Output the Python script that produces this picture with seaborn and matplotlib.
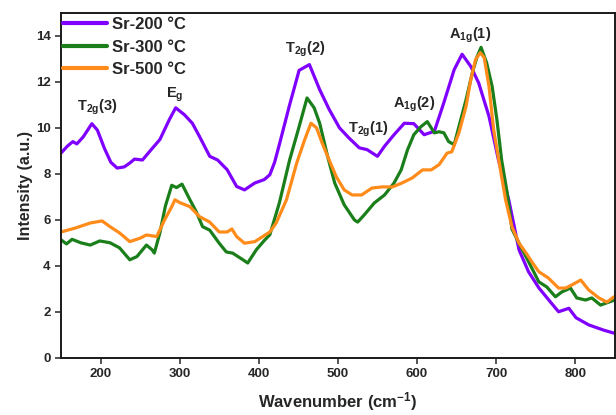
import numpy as np
import pandas as pd
import matplotlib
matplotlib.use("Agg")
import matplotlib.pyplot as plt
import seaborn as sns

# Raman spectra of Sr samples annealed at different temperatures
wn_200 = [150, 158, 165, 170, 178, 189, 196, 205, 213, 221, 230, 237, 243, 253, 262, 275,
          287, 295, 306, 316, 325, 338, 348, 360, 372, 382, 395, 407, 414, 420, 426, 439,
          451, 464, 477, 489, 502, 514, 527, 537, 550, 559, 571, 584, 596, 609, 622, 634,
          647, 657, 668, 678, 691, 703, 716, 729, 741, 754, 770, 779, 792, 801, 817, 836, 849]
int_200 = [8.9, 9.2, 9.4, 9.3, 9.6, 10.18, 9.9, 9.1, 8.5, 8.25, 8.3, 8.47, 8.64, 8.6, 8.97, 9.49,
           10.36, 10.87, 10.57, 10.2, 9.63, 8.76, 8.6, 8.18, 7.45, 7.3, 7.6, 7.75, 7.96, 8.5, 9.27, 11.0,
           12.5, 12.75, 11.66, 10.8, 10.0, 9.56, 9.13, 9.05, 8.76, 9.2, 9.7, 10.2, 10.18, 9.7, 9.85, 11.1,
           12.53, 13.2, 12.67, 11.95, 10.5, 8.6, 6.87, 4.69, 3.74, 3.04, 2.37, 2.0, 2.15, 1.74, 1.43, 1.2, 1.07]

wn_300 = [150, 157, 164, 175, 187, 199, 212, 224, 237, 246, 258, 265, 268, 275, 282, 290,
          296, 303, 313, 321, 329, 338, 350, 359, 367, 380, 386, 397, 407, 414, 426, 439,
          451, 461, 470, 477, 487, 496, 508, 521, 525, 533, 546, 559, 571, 580, 588, 596,
          605, 613, 622, 628, 634, 640, 647, 653, 662, 670, 676, 681, 688, 695, 701, 707,
          714, 720, 729, 741, 754, 764, 775, 783, 794, 802, 813, 821, 832, 849]
int_300 = [5.13, 4.95, 5.15, 5.0, 4.9, 5.08, 5.0, 4.78, 4.26, 4.4, 4.9, 4.7, 4.55, 5.43, 6.6, 7.5,
           7.4, 7.55, 6.87, 6.35, 5.7, 5.55, 4.98, 4.6, 4.55, 4.26, 4.12, 4.7, 5.1, 5.35, 6.73, 8.6,
           10.05, 11.3, 10.87, 10.2, 8.76, 7.6, 6.65, 5.99, 5.9, 6.2, 6.73, 7.08, 7.6, 8.17, 9.04, 9.7,
           10.05, 10.27, 9.78, 9.83, 9.78, 9.4, 9.27, 10.05, 11.22, 12.4, 13.1, 13.5, 12.83, 11.8, 10.36, 8.6,
           7.17, 5.6, 4.98, 4.18, 3.3, 3.08, 2.65, 2.86, 3.03, 2.6, 2.51, 2.6, 2.29, 2.5]

wn_500 = [150, 168, 187, 202, 212, 224, 237, 250, 258, 271, 281, 290, 294, 300, 313, 325,
          338, 350, 360, 366, 372, 382, 395, 405, 414, 422, 435, 448, 458, 466, 473, 480,
          489, 498, 508, 518, 530, 543, 556, 569, 581, 594, 607, 618, 628, 638, 644, 653,
          662, 668, 674, 680, 685, 691, 697, 704, 712, 720, 729, 738, 745, 754, 766, 779,
          788, 796, 807, 817, 830, 840, 849]
int_500 = [5.47, 5.64, 5.86, 5.95, 5.7, 5.43, 5.05, 5.2, 5.34, 5.27, 6.0, 6.57, 6.87, 6.75, 6.57, 6.14,
           5.9, 5.47, 5.47, 5.6, 5.27, 4.98, 5.05, 5.27, 5.47, 5.86, 6.87, 8.47, 9.48, 10.2, 10.0, 9.35,
           8.6, 7.87, 7.3, 7.08, 7.08, 7.38, 7.43, 7.43, 7.6, 7.82, 8.17, 8.17, 8.4, 8.9, 8.96, 9.78,
           10.93, 12.1, 12.97, 13.27, 13.05, 11.8, 9.9, 8.47, 6.87, 5.7, 4.98, 4.55, 4.18, 3.74, 3.47, 3.03,
           3.03, 3.17, 3.38, 2.95, 2.6, 2.42, 2.65]

series_names = ["Sr-200 °C", "Sr-300 °C", "Sr-500 °C"]
series_colors = ["#8000ff", "#1a7f1a", "#ff8c1a"]

# Raman mode labels: text, wavenumber, intensity (baseline)
mode_labels = ["T$_{\\mathbf{2g}}$(3)", "E$_{\\mathbf{g}}$", "T$_{\\mathbf{2g}}$(2)",
               "T$_{\\mathbf{2g}}$(1)", "A$_{\\mathbf{1g}}$(2)", "A$_{\\mathbf{1g}}$(1)"]
mode_x = [196, 294, 459, 538, 596, 667]
mode_y = [10.77, 11.3, 13.25, 9.79, 10.88, 13.88]

x_ticks = [200, 300, 400, 500, 600, 700, 800]
y_ticks = [0, 2, 4, 6, 8, 10, 12, 14]

frames = []
for name, wn, inten in zip(series_names, [wn_200, wn_300, wn_500], [int_200, int_300, int_500]):
    frames.append(pd.DataFrame({"Wavenumber": wn, "Intensity": inten, "Sample": name}))
df = pd.concat(frames, ignore_index=True)

sns.set_style("ticks")
plt.rcParams["font.family"] = ["Liberation Sans", "DejaVu Sans"]
plt.rcParams["font.weight"] = "bold"
plt.rcParams["mathtext.fontset"] = "custom"
plt.rcParams["mathtext.rm"] = "Liberation Sans:bold"
plt.rcParams["mathtext.bf"] = "Liberation Sans:bold"
plt.rcParams["mathtext.it"] = "Liberation Sans:bold"
plt.rcParams["mathtext.default"] = "bf"

fig = plt.figure(figsize=(6.16, 4.15), dpi=100)
ax = fig.add_axes([0.099, 0.138, 0.899, 0.831])

sns.lineplot(data=df, x="Wavenumber", y="Intensity", hue="Sample",
             palette=dict(zip(series_names, series_colors)), hue_order=series_names,
             sort=False, estimator=None, linewidth=2.3, ax=ax)

ax.set_xlim(150, 850)
ax.set_ylim(0, 15)
ax.set_xticks(x_ticks)
ax.set_yticks(y_ticks)
ax.tick_params(axis="both", labelsize=9.5, width=1.1, length=4, direction="out")
for lab in ax.get_xticklabels() + ax.get_yticklabels():
    lab.set_fontweight("bold")
for sp in ax.spines.values():
    sp.set_visible(True)
    sp.set_linewidth(1.4)
    sp.set_color("#1a1a1a")

ax.set_xlabel("Wavenumber (cm$^{\\mathbf{-1}}$)", fontsize=12, fontweight="bold", labelpad=7)
ax.set_ylabel("Intensity (a.u.)", fontsize=11.5, fontweight="bold", labelpad=2)

for txt, xv, yv in zip(mode_labels, mode_x, mode_y):
    ax.text(xv, yv, txt, ha="center", va="baseline", fontsize=10.5, fontweight="bold")

leg = ax.legend(loc="upper left", bbox_to_anchor=(0.0, 0.995), frameon=False,
                borderaxespad=0.0, borderpad=0.15, handlelength=2.6, handletextpad=0.3,
                labelspacing=0.45, prop={"size": 12, "weight": "bold"})
for line in leg.get_lines():
    line.set_linewidth(3)

fig.savefig("out.png", dpi=100)
